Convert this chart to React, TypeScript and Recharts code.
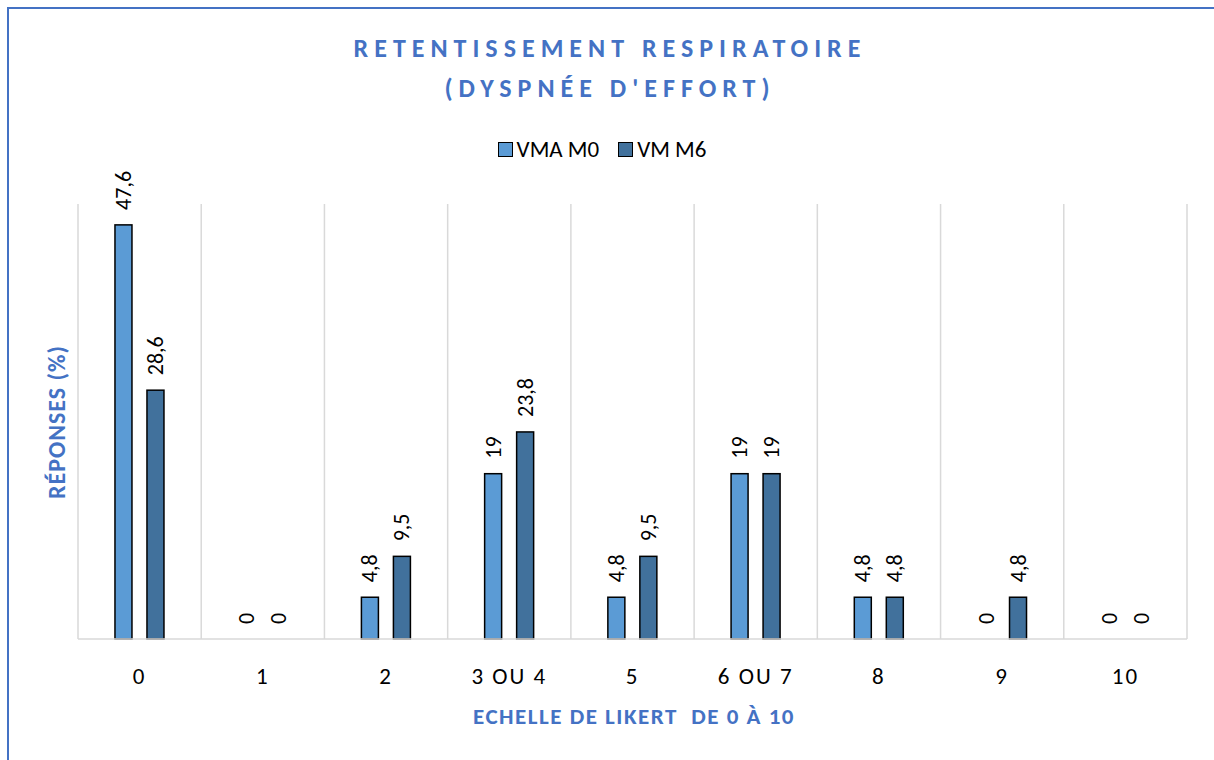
import { BarChart, Bar, XAxis, YAxis, CartesianGrid } from 'recharts'

// ── Data ──────────────────────────────────────────────────────────────────────

const categories = ['0', '1', '2', '3 OU 4', '5', '6 OU 7', '8', '9', '10']
const vmaM0 = [47.6, 0, 4.8, 19, 4.8, 19, 4.8, 0, 0]
const vmM6 = [28.6, 0, 9.5, 23.8, 9.5, 19, 4.8, 4.8, 0]
const seriesNames = ['VMA M0', 'VM M6']
const gridTicks = [0, 1, 2, 3, 4, 5, 6, 7, 8, 9]

const data = categories.map((label, i) => ({ label, m0: vmaM0[i], m6: vmM6[i] }))

// ── Styles ────────────────────────────────────────────────────────────────────

const FONT = 'Carlito, Lato, "Open Sans", sans-serif'
const BLUE = '#4472C4'
const COLORS = ['#5B9BD5', '#41719C']
const GRID = '#d9d9d9'

function fmt(v: number): string {
  return String(v).replace('.', ',')
}

// ── Custom pieces ─────────────────────────────────────────────────────────────

// bar rectangle + rotated value label (zero bars keep their label)
function BarWithLabel(props: any) {
  const { x, y, width, height, fill, value } = props
  const v = Array.isArray(value) ? value[1] - value[0] : Number(value)
  const cx = Number(x) + Number(width) / 2
  const top = v > 0 ? Number(y) : Number(y) + Number(height)
  const ty = top - 15
  return (
    <g>
      {v > 0 && (
        <rect x={x} y={y} width={width} height={height} fill={fill} stroke="#000" strokeWidth={1.5} />
      )}
      <text
        x={cx}
        y={ty}
        transform={`rotate(-90 ${cx} ${ty})`}
        textAnchor="start"
        dominantBaseline="central"
        fontSize={22}
        fontFamily={FONT}
        fill="#000"
      >
        {fmt(v)}
      </text>
    </g>
  )
}

function CatTick(props: any) {
  const { x, y, payload } = props
  return (
    <text
      x={x}
      y={y + 28}
      textAnchor="middle"
      dominantBaseline="central"
      fontSize={23}
      fontFamily={FONT}
      letterSpacing={2}
      fill="#000"
    >
      {payload.value}
    </text>
  )
}

// ── App ───────────────────────────────────────────────────────────────────────

export default function App() {
  return (
    <div style={{ position: 'absolute', left: 0, top: 0, width: 1214, height: 760, background: '#fff', overflow: 'hidden', fontFamily: FONT }}>
      <div
        style={{
          position: 'absolute',
          left: 7,
          top: 7,
          width: 1300,
          height: 900,
          borderLeft: `2px solid ${BLUE}`,
          borderTop: `2px solid ${BLUE}`,
        }}
      />
      <div
        style={{
          position: 'absolute',
          left: 3,
          top: 28,
          width: 1214,
          textAlign: 'center',
          color: BLUE,
          fontWeight: 700,
          fontSize: 26,
          letterSpacing: 6,
          lineHeight: '40px',
        }}
      >
        RETENTISSEMENT RESPIRATOIRE
        <br />
        (DYSPNÉE D'EFFORT)
      </div>

      <div
        style={{
          position: 'absolute',
          left: 0,
          top: 135,
          width: 1214,
          display: 'flex',
          justifyContent: 'center',
          gap: 19,
          fontSize: 23,
          color: '#000',
        }}
      >
        {seriesNames.map((name, i) => (
          <div key={name} style={{ display: 'flex', alignItems: 'center', marginLeft: i === 0 ? -10 : 0 }}>
            <span
              style={{
                display: 'inline-block',
                width: 13,
                height: 13,
                background: COLORS[i],
                border: '1.5px solid #000',
                marginRight: 4,
              }}
            />
            <span>{name}</span>
          </div>
        ))}
      </div>

      <div
        style={{
          position: 'absolute',
          left: 57 - 100,
          top: 422 - 15,
          width: 200,
          height: 30,
          lineHeight: '30px',
          textAlign: 'center',
          transform: 'rotate(-90deg)',
          color: BLUE,
          fontWeight: 700,
          fontSize: 24,
          letterSpacing: 1,
        }}
      >
        RÉPONSES (%)
      </div>

      <div
        style={{
          position: 'absolute',
          left: 634 - 250,
          top: 702,
          width: 500,
          textAlign: 'center',
          color: BLUE,
          fontWeight: 700,
          fontSize: 23,
          letterSpacing: 1.5,
          whiteSpace: 'pre',
        }}
      >
        {'ECHELLE DE LIKERT  DE 0 À 10'}
      </div>

      <div style={{ position: 'absolute', left: 0, top: 0 }}>
        <BarChart
          width={1214}
          height={760}
          data={data}
          margin={{ top: 204, right: 27, bottom: 61, left: 78 }}
          barCategoryGap="30%"
          barGap={15}
        >
          <CartesianGrid
            horizontal={false}
            stroke={GRID}
            strokeWidth={1.5}
            verticalCoordinatesGenerator={({ offset }: any) =>
              gridTicks.map((t) => offset.left + (t * offset.width) / categories.length)
            }
          />
          {/* boundary axis: baseline + tick marks between categories */}
          <XAxis
            type="number"
            domain={[0, 9]}
            ticks={gridTicks}
            tick={false}
            tickSize={9}
            height={1}
            axisLine={{ stroke: GRID, strokeWidth: 1.5 }}
            tickLine={{ stroke: GRID, strokeWidth: 1.5 }}
          />
          <XAxis
            xAxisId="cat"
            dataKey="label"
            axisLine={false}
            tickLine={false}
            tick={<CatTick />}
            interval={0}
            height={59}
          />
          <YAxis hide domain={[0, 50]} />
          <Bar
            xAxisId="cat"
            dataKey="m0"
            name={seriesNames[0]}
            fill={COLORS[0]}
            minPointSize={(v: number) => (v === 0 ? 0.01 : 0)}
            shape={<BarWithLabel />}
            isAnimationActive={false}
          />
          <Bar
            xAxisId="cat"
            dataKey="m6"
            name={seriesNames[1]}
            fill={COLORS[1]}
            minPointSize={(v: number) => (v === 0 ? 0.01 : 0)}
            shape={<BarWithLabel />}
            isAnimationActive={false}
          />
        </BarChart>
      </div>
    </div>
  )
}
